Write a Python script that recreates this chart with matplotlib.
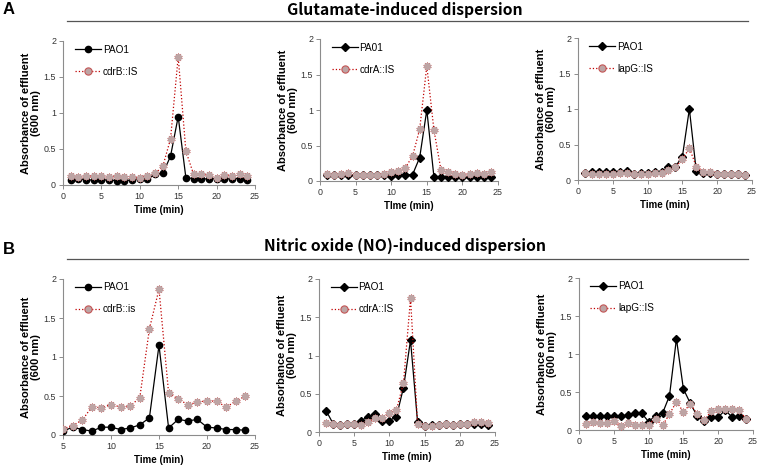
import matplotlib
matplotlib.use("Agg")
import matplotlib.pyplot as plt
from matplotlib.lines import Line2D

plt.rcParams['font.family'] = ['Liberation Sans', 'DejaVu Sans']

# ---------------- data ----------------
t_full = list(range(1, 25))
t_b1 = list(range(5, 25))

a1_pao1 = [0.07, 0.09, 0.07, 0.07, 0.07, 0.07, 0.06, 0.06, 0.07, 0.09, 0.08, 0.15,
           0.16, 0.40, 0.95, 0.10, 0.09, 0.09, 0.08, 0.09, 0.08, 0.09, 0.09, 0.07]
a1_mut = [0.13, 0.11, 0.13, 0.12, 0.12, 0.11, 0.13, 0.11, 0.11, 0.10, 0.13, 0.16,
          0.26, 0.64, 1.78, 0.47, 0.15, 0.15, 0.14, 0.10, 0.14, 0.13, 0.15, 0.12]

a2_pao1 = [0.09, 0.08, 0.08, 0.09, 0.08, 0.08, 0.08, 0.08, 0.08, 0.07, 0.08, 0.09,
           0.09, 0.33, 1.00, 0.06, 0.06, 0.05, 0.05, 0.05, 0.05, 0.05, 0.05, 0.05]
a2_mut = [0.10, 0.08, 0.10, 0.11, 0.09, 0.08, 0.08, 0.09, 0.10, 0.13, 0.14, 0.19,
          0.35, 0.73, 1.62, 0.72, 0.15, 0.12, 0.10, 0.09, 0.10, 0.11, 0.10, 0.12]

a3_pao1 = [0.10, 0.11, 0.11, 0.11, 0.11, 0.11, 0.13, 0.09, 0.10, 0.10, 0.11, 0.11,
           0.18, 0.19, 0.33, 1.00, 0.12, 0.10, 0.10, 0.09, 0.09, 0.09, 0.08, 0.07]
a3_mut = [0.10, 0.09, 0.09, 0.09, 0.09, 0.10, 0.10, 0.09, 0.09, 0.09, 0.10, 0.10,
          0.14, 0.18, 0.29, 0.45, 0.19, 0.11, 0.11, 0.09, 0.09, 0.09, 0.08, 0.07]

b1_pao1 = [0.05, 0.10, 0.07, 0.05, 0.10, 0.10, 0.07, 0.09, 0.13, 0.22,
           1.15, 0.09, 0.20, 0.18, 0.20, 0.10, 0.09, 0.07, 0.07, 0.06]
b1_mut = [0.08, 0.12, 0.19, 0.36, 0.35, 0.39, 0.36, 0.37, 0.48, 1.36,
          1.87, 0.54, 0.46, 0.39, 0.42, 0.44, 0.43, 0.36, 0.43, 0.50]

b2_pao1 = [0.28, 0.11, 0.09, 0.11, 0.10, 0.15, 0.20, 0.24, 0.14, 0.15, 0.20, 0.58,
           1.20, 0.13, 0.08, 0.09, 0.09, 0.10, 0.09, 0.10, 0.10, 0.10, 0.10, 0.09]
b2_mut = [0.12, 0.10, 0.09, 0.11, 0.10, 0.09, 0.13, 0.18, 0.18, 0.25, 0.29, 0.64,
          1.75, 0.11, 0.08, 0.08, 0.09, 0.11, 0.09, 0.11, 0.11, 0.13, 0.13, 0.12]

b3_pao1 = [0.18, 0.18, 0.18, 0.18, 0.19, 0.18, 0.20, 0.22, 0.22, 0.11, 0.19, 0.22,
           0.45, 1.20, 0.54, 0.35, 0.18, 0.12, 0.17, 0.17, 0.26, 0.17, 0.18, 0.14]
b3_mut = [0.08, 0.10, 0.09, 0.09, 0.12, 0.05, 0.09, 0.07, 0.06, 0.07, 0.15, 0.06,
          0.21, 0.37, 0.24, 0.34, 0.21, 0.13, 0.25, 0.28, 0.28, 0.28, 0.26, 0.15]

panels = [
    dict(t=t_full, wt=a1_pao1, mut=a1_mut, wt_label="PAO1", mut_label="cdrB::IS",
         marker="o", xlabel="Time (min)", xlim=(0, 25), xticks=[0, 5, 10, 15, 20, 25],
         rect=[63, 41, 255, 185]),
    dict(t=t_full, wt=a2_pao1, mut=a2_mut, wt_label="PA01", mut_label="cdrA::IS",
         marker="D", xlabel="TIme (min)", xlim=(0, 25), xticks=[0, 5, 10, 15, 20, 25],
         rect=[320, 39, 498, 181]),
    dict(t=t_full, wt=a3_pao1, mut=a3_mut, wt_label="PAO1", mut_label="lapG::IS",
         marker="D", xlabel="Time (min)", xlim=(0, 25), xticks=[0, 5, 10, 15, 20, 25],
         rect=[578, 38, 752, 180]),
    dict(t=t_b1, wt=b1_pao1, mut=b1_mut, wt_label="PAO1", mut_label="cdrB::is",
         marker="o", xlabel="Time (min)", xlim=(5, 25), xticks=[5, 10, 15, 20, 25],
         rect=[63, 279, 255, 435]),
    dict(t=t_full, wt=b2_pao1, mut=b2_mut, wt_label="PAO1", mut_label="cdrA::IS",
         marker="D", xlabel="Time (min)", xlim=(0, 25), xticks=[0, 5, 10, 15, 20, 25],
         rect=[319, 279, 495, 432]),
    dict(t=t_full, wt=b3_pao1, mut=b3_mut, wt_label="PAO1", mut_label="lapG::IS",
         marker="D", xlabel="Time (min)", xlim=(0, 25), xticks=[0, 5, 10, 15, 20, 25],
         rect=[579, 278, 753, 430]),
]

W, H = 760, 466
fig = plt.figure(figsize=(W / 100, H / 100), dpi=100)

RED = "#c00000"
MFACE = "#bda4a4"
MEDGE = "#c45555"
GRAY = "#8c8c8c"

for p in panels:
    x0, y0, x1, y1 = p["rect"]
    ax = fig.add_axes([x0 / W, 1 - y1 / H, (x1 - x0) / W, (y1 - y0) / H])
    ms_wt = 4.5 if p["marker"] == "o" else 3.6
    ax.plot(p["t"], p["wt"], color="black", lw=0.9, marker=p["marker"],
            markersize=ms_wt, markerfacecolor="black", markeredgecolor="black", zorder=3)
    # mutant: dotted red line with flower-like markers
    ax.plot(p["t"], p["mut"], color=RED, lw=0.9, ls=":", marker=(10, 1, 0),
            markersize=6.2, markerfacecolor=MEDGE, markeredgecolor=MEDGE,
            markeredgewidth=0.3, zorder=4)
    ax.plot(p["t"], p["mut"], ls="none", marker="o", markersize=5.2,
            markerfacecolor=MFACE, markeredgecolor="none", zorder=5)
    ax.set_xlim(*p["xlim"])
    ax.set_ylim(0, 2)
    ax.set_xticks(p["xticks"])
    ax.set_xticklabels([str(v) for v in p["xticks"]])
    ax.set_yticks([0, 0.5, 1, 1.5, 2])
    ax.set_yticklabels(["0", "0.5", "1", "1.5", "2"])
    for s in ["top", "right"]:
        ax.spines[s].set_visible(False)
    for s in ["left", "bottom"]:
        ax.spines[s].set_color(GRAY)
        ax.spines[s].set_linewidth(0.8)
    ax.tick_params(axis="both", colors=GRAY, labelcolor="#333333", labelsize=6.4,
                   length=3, width=0.7, pad=2)
    ax.set_xlabel(p["xlabel"], fontsize=7, fontweight="bold", labelpad=3)
    ax.set_ylabel("Absorbance of effluent\n(600 nm)", fontsize=8,
                  fontweight="bold", labelpad=1.5, linespacing=1.05)
    ax.patch.set_visible(False)

    h_wt = Line2D([], [], color="black", lw=0.9, marker=p["marker"],
                  markersize=ms_wt, markerfacecolor="black")
    h_mut = Line2D([], [], color=RED, lw=0.9, ls=":", marker="o", markersize=5.2,
                   markerfacecolor=MFACE, markeredgecolor=MEDGE, markeredgewidth=0.8)
    ax.legend([h_wt, h_mut], [p["wt_label"], p["mut_label"]], loc="upper left",
              bbox_to_anchor=(0.02, 1.03), frameon=False, fontsize=7.2,
              handlelength=2.6, handletextpad=0.2, labelspacing=1.2, borderpad=0.3)

# Section headers
title_font = dict(family=["Noto Sans CJK KR", "DejaVu Sans"], fontweight="bold", fontsize=11.3)
fig.text(405 / W, 1 - 10 / H, "Glutamate-induced dispersion", ha="center", va="center", **title_font)
fig.text(405 / W, 1 - 246 / H, "Nitric oxide (NO)-induced dispersion", ha="center", va="center", **title_font)
fig.add_artist(Line2D([67 / W, 748 / W], [1 - 21 / H, 1 - 21 / H], color="#555555", lw=0.9))
fig.add_artist(Line2D([67 / W, 748 / W], [1 - 259 / H, 1 - 259 / H], color="#555555", lw=0.9))
fig.text(3 / W, 1 - 10 / H, "A", ha="left", va="center", fontsize=12, fontweight="bold")
fig.text(3 / W, 1 - 250 / H, "B", ha="left", va="center", fontsize=12, fontweight="bold")

fig.savefig("out.png", dpi=100, facecolor="white")
